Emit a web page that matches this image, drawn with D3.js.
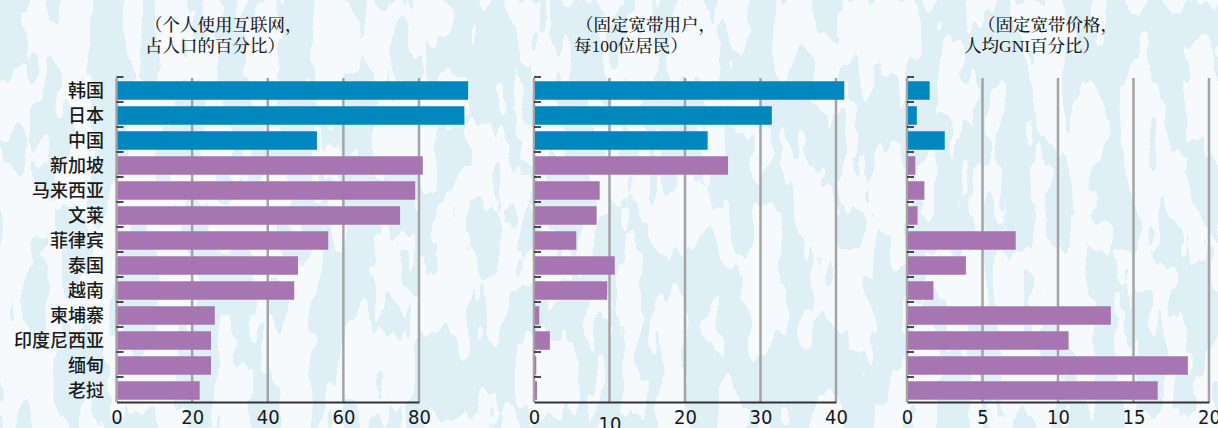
<!DOCTYPE html>
<html>
<head>
<meta charset="utf-8">
<script src="https://cdn.jsdelivr.net/npm/d3@7"></script>
<style>
  html, body { margin: 0; padding: 0; background: #fff; }
  svg { display: block; }
</style>
</head>
<body>
<script>
// data
const countries = ["韩国", "日本", "中国", "新加坡", "马来西亚", "文莱", "菲律宾", "泰国", "越南", "柬埔寨", "印度尼西亚", "缅甸", "老挝"];
const regions = ["东亚", "东亚", "东亚", "东盟", "东盟", "东盟", "东盟", "东盟", "东盟", "东盟", "东盟", "东盟", "东盟"];
const internetUsers = [93, 92, 53, 81, 79, 75, 56, 48, 47, 26, 25, 25, 22];
const broadbandSubs = [41.1, 31.5, 23.0, 25.7, 8.7, 8.3, 5.6, 10.7, 9.7, 0.7, 2.1, 0.3, 0.4];
const broadbandPrice = [1.5, 0.65, 2.5, 0.55, 1.15, 0.7, 7.2, 3.9, 1.75, 13.5, 10.7, 18.6, 16.6];
const ticks1 = [0, 20, 40, 60, 80];
const ticks2 = [0, 10, 20, 30, 40];
const ticks3 = [0, 5, 10, 15, 20];
const title1 = ["（个人使用互联网，", "占人口的百分比）"];
const title2 = ["（固定宽带用户，", "每100位居民）"];
const title3 = ["（固定宽带价格，", "人均GNI百分比）"];

let width = 1218,
    height = 428;

let colors = {"东亚": "#0087bd", "东盟": "#a675b2"};

let svg = d3.select("body").append("svg")
    .attr("width", width)
    .attr("height", height);

// blobby light blue background
let defs = svg.append("defs");
let f = defs.append("filter")
    .attr("id", "blobs")
    .attr("x", 0).attr("y", 0).attr("width", "100%").attr("height", "100%")
    .attr("color-interpolation-filters", "sRGB");
f.append("feTurbulence")
    .attr("type", "fractalNoise")
    .attr("baseFrequency", "0.032 0.012")
    .attr("numOctaves", 3)
    .attr("seed", 4);
f.append("feColorMatrix")
    .attr("type", "matrix")
    .attr("values", "0 0 0 0 0.875  0 0 0 0 0.937  0 0 0 0 0.965  1 0 0 0 0");
f.append("feComponentTransfer")
    .append("feFuncA")
    .attr("type", "discrete")
    .attr("tableValues", "0 0 0 0 0 0 0 0 0 0 1 1 1 1 1 1 1 1 1 1");

svg.append("rect")
    .attr("width", width).attr("height", height)
    .attr("fill", "#f6fafc");
svg.append("rect")
    .attr("width", width).attr("height", height)
    .attr("fill", "#fff")
    .attr("filter", "url(#blobs)");

let plotTop = 78, plotBottom = 402;

let y = d3.scaleBand()
    .domain(countries)
    .range([plotTop, plotTop + 25 * countries.length])
    .paddingInner(0.26)
    .paddingOuter(0.13);

let panels = [
    {values: internetUsers, ticks: ticks1, title: title1, x0: 116.5, x1: 419, titleX: [145, 145]},
    {values: broadbandSubs, ticks: ticks2, title: title2, x0: 534, x1: 836, titleX: [576, 574]},
    {values: broadbandPrice, ticks: ticks3, title: title3, x0: 907, x1: 1209, titleX: [978, 964]}
];

// country names
svg.append("g")
    .selectAll("text")
    .data(countries)
    .enter()
    .append("text")
        .attr("x", 104)
        .attr("y", d => y(d) + y.bandwidth() / 2)
        .attr("dy", "0.36em")
        .attr("text-anchor", "end")
        .style("font-family", "'Noto Sans CJK SC', sans-serif")
        .style("font-size", "18px")
        .style("font-weight", 500)
        .attr("fill", "#1a1a1a")
        .text(d => d);

panels.forEach(function (p) {
    let ticks = p.ticks;
    let x = d3.scaleLinear()
        .domain([0, ticks[ticks.length - 1]])
        .range([p.x0, p.x1]);

    let g = svg.append("g");

    //gridlines
    g.selectAll("line.grid")
        .data(ticks)
        .enter()
        .append("line")
            .attr("class", "grid")
            .attr("x1", d => x(d)).attr("x2", d => x(d))
            .attr("y1", plotTop).attr("y2", plotBottom)
            .attr("stroke", "#a4a4a4")
            .attr("stroke-width", 2.5);

    //bars
    g.selectAll("rect")
        .data(p.values)
        .enter()
        .append("rect")
            .attr("x", x(0) + 1)
            .attr("y", (d, i) => y(countries[i]))
            .attr("width", d => x(d) - x(0) - 1)
            .attr("height", y.bandwidth())
            .attr("fill", (d, i) => colors[regions[i]]);

    //small category ticks on the left
    g.selectAll("line.cat")
        .data(countries)
        .enter()
        .append("line")
            .attr("class", "cat")
            .attr("x1", x(0)).attr("x2", x(0) + 7)
            .attr("y1", d => y(d) - y.step() * y.paddingInner() / 2 - 1)
            .attr("y2", d => y(d) - y.step() * y.paddingInner() / 2 - 1)
            .attr("stroke", "#222")
            .attr("stroke-width", 1.6);

    //bottom axis
    let axis = g.append("g")
        .attr("transform", `translate(0,${plotBottom})`)
        .call(d3.axisBottom(x).tickValues(ticks).tickSize(0).tickPadding(8));
    axis.select(".domain")
        .attr("stroke", "#333")
        .attr("stroke-width", 2);
    axis.selectAll("text")
        .style("font-family", "'Liberation Sans Narrow', 'DejaVu Sans Condensed', sans-serif")
        .style("font-size", "20px")
        .attr("fill", "#1a1a1a")
        .attr("dy", d => (p.ticks === ticks2 && d === 10) ? "1.05em" : "0.72em");

    //title
    g.selectAll("text.title")
        .data(p.title)
        .enter()
        .append("text")
            .attr("class", "title")
            .attr("x", (d, i) => p.titleX[i])
            .attr("y", (d, i) => 31 + i * 21)
            .style("font-family", "'Liberation Serif', 'Noto Serif CJK SC', 'Noto Sans CJK SC', serif")
            .style("font-size", "17.5px")
            .style("font-weight", 500)
            .attr("fill", "#1a1a1a")
            .text(d => d);
});
</script>
</body>
</html>
